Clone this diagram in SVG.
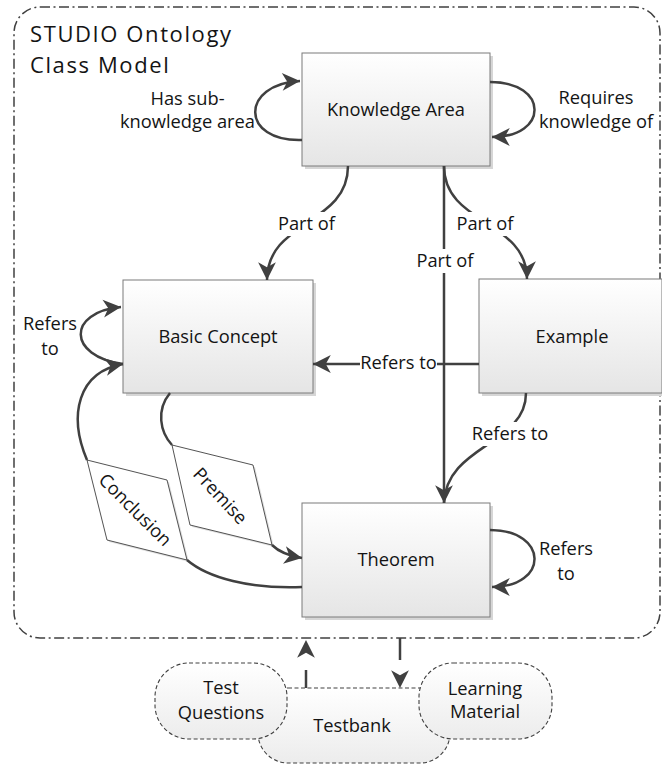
<svg xmlns="http://www.w3.org/2000/svg" width="662" height="767" viewBox="0 0 662 767">
<style>
text{font-family:"Open Sans","Liberation Sans",sans-serif;fill:#141414}
.lbl{font-size:18.3px;text-anchor:middle}
.box{fill:url(#g);stroke:#7a7a7a;stroke-width:1}
.sh{fill:#d6d6d6}
.con{fill:none;stroke:#404040;stroke-width:2.5}
.bg{fill:#fff}
.para{fill:#fff;stroke:#404040;stroke-width:0.9}
.bub{fill:url(#g2);stroke:#404040;stroke-width:1.1;stroke-dasharray:4 2.5}
.title{font-size:22px;letter-spacing:1.6px}
</style>
<defs>
<linearGradient id="g" x1="0" y1="0" x2="0" y2="1"><stop offset="0" stop-color="#ffffff"/><stop offset="1" stop-color="#e5e5e5"/></linearGradient>
<linearGradient id="g2" x1="0" y1="0" x2="0" y2="1"><stop offset="0" stop-color="#ffffff"/><stop offset="1" stop-color="#ececec"/></linearGradient>
<marker id="ah" markerUnits="userSpaceOnUse" markerWidth="20" markerHeight="20" viewBox="-17 -9 18 18" refX="0" refY="0" orient="auto">
<path d="M0,0 L-16,-8 L-11.5,0 L-16,8 Z" fill="#404040"/>
</marker>
</defs>
<g id="boundary">
<rect x="14" y="7" width="646" height="631" rx="26" fill="none" stroke="#404040" stroke-width="1.5" stroke-dasharray="10 3.5 2 3.5"/>
<text class="title" x="30" y="42">STUDIO Ontology</text>
<text class="title" x="30" y="73">Class Model</text>
</g>
<g id="knowledge-area">
<rect class="sh" x="305" y="56" width="188" height="113"/>
<rect class="box" x="302" y="53" width="188" height="113"/>
<text class="lbl" x="396" y="116">Knowledge Area</text>
</g>
<g id="basic-concept">
<rect class="sh" x="126" y="283" width="190" height="113"/>
<rect class="box" x="123" y="280" width="190" height="113"/>
<text class="lbl" x="218" y="343">Basic Concept</text>
</g>
<g id="example">
<rect class="sh" x="482" y="282" width="183" height="114"/>
<rect class="box" x="479" y="279" width="183" height="114"/>
<text class="lbl" x="572" y="343">Example</text>
</g>
<g id="theorem">
<rect class="sh" x="305" y="506" width="188" height="114"/>
<rect class="box" x="302" y="503" width="188" height="114"/>
<text class="lbl" x="396" y="566">Theorem</text>
</g>
<g id="conclusion">
<polygon points="89,462 169,482 189,562 109,542" fill="#e0e0e0"/>
<polygon class="para" points="87,460 167,480 187,560 107,540"/>
<text class="lbl" x="0" y="0" dominant-baseline="central" transform="translate(136,509) rotate(45)">Conclusion</text>
</g>
<g id="premise">
<polygon points="174,447 255,467 274,547 192,527" fill="#e0e0e0"/>
<polygon class="para" points="172,445 253,465 272,545 190,525"/>
<text class="lbl" x="0" y="0" dominant-baseline="central" transform="translate(221,495) rotate(47)">Premise</text>
</g>
<g id="testbank">
<rect class="bub" x="258" y="688" width="192" height="75" rx="30"/>
<text class="lbl" x="352" y="732">Testbank</text>
</g>
<g id="test-questions">
<rect class="bub" x="155" y="663" width="132" height="76" rx="34"/>
<text class="lbl" x="221" y="694">Test</text>
<text class="lbl" x="221" y="719">Questions</text>
</g>
<g id="learning-material">
<rect class="bub" x="419" y="663" width="133" height="76" rx="34"/>
<text class="lbl" x="485" y="695">Learning</text>
<text class="lbl" x="485" y="718">Material</text>
</g>
<g id="connectors">
<path class="con" d="M302,140 C240,142 240,84 300,81" marker-end="url(#ah)"/>
<path class="con" d="M490,82 C549,82 549,137 492,137" marker-end="url(#ah)"/>
<path class="con" d="M348,166 C348,225 267,220 267,280" marker-end="url(#ah)"/>
<path class="con" d="M444,166 C444,225 527,220 527,279" marker-end="url(#ah)"/>
<path class="con" d="M444,166 L444,503" marker-end="url(#ah)"/>
<path class="con" d="M479,364 L313,364" marker-end="url(#ah)"/>
<path class="con" d="M526,393 C526,445 446,445 444,503"/>
<path class="con" d="M123,364 C67,356 67,312 121,307" marker-end="url(#ah)"/>
<path class="con" d="M302,587 C250,589 208,578 187,560"/>
<path class="con" d="M87,460 C68,415 78,372 123,364" marker-end="url(#ah)"/>
<path class="con" d="M170,393 C156,410 160,432 172,445"/>
<path class="con" d="M272,545 C280,553 290,556 302,558" marker-end="url(#ah)"/>
<path class="con" d="M490,530 C549,530 549,587 492,587" marker-end="url(#ah)"/>
<path class="con" d="M306,688 L306,640" stroke-width="3" stroke-dasharray="18 40" marker-end="url(#ah)"/>
<path class="con" d="M400,638 L400,688" stroke-width="3" stroke-dasharray="22 40" marker-end="url(#ah)"/>
<rect class="bg" x="277" y="212" width="59" height="24"/>
<text class="lbl" x="306.5" y="230">Part of</text>
<rect class="bg" x="456" y="212" width="59" height="24"/>
<text class="lbl" x="485" y="230">Part of</text>
<rect class="bg" x="416" y="249" width="58" height="24"/>
<text class="lbl" x="445" y="267">Part of</text>
<rect class="bg" x="360" y="352" width="77" height="22"/>
<text class="lbl" x="398.5" y="369">Refers to</text>
<rect class="bg" x="471" y="422" width="79" height="24"/>
<text class="lbl" x="510" y="440">Refers to</text>
<text class="lbl" x="187.5" y="105">Has sub-</text>
<text class="lbl" x="187.5" y="128">knowledge area</text>
<text class="lbl" x="596" y="104">Requires</text>
<text class="lbl" x="596" y="128">knowledge of</text>
<text class="lbl" x="50" y="330">Refers</text>
<text class="lbl" x="50" y="355">to</text>
<text class="lbl" x="566" y="555">Refers</text>
<text class="lbl" x="566" y="580">to</text>
</g>
</svg>
